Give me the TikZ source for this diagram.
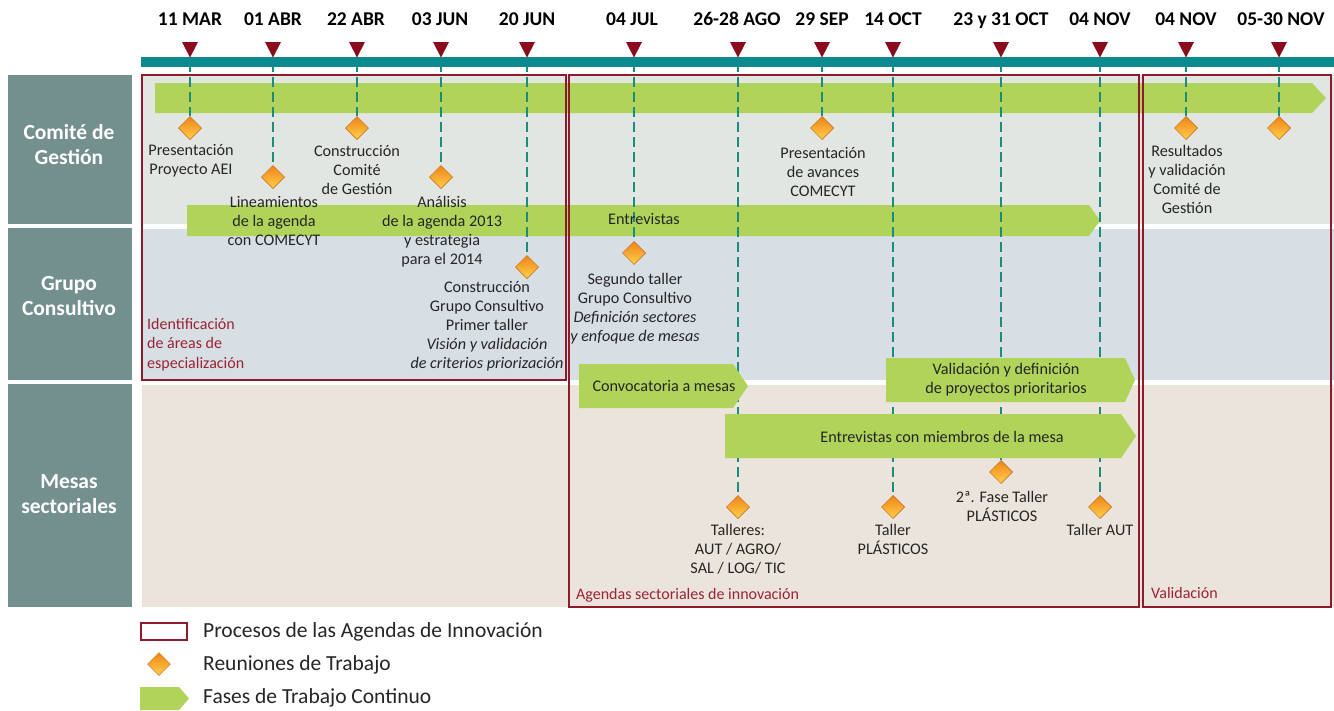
\documentclass[tikz,border=0pt]{standalone}
\usepackage{fontspec}
\setmainfont{Carlito}
\usetikzlibrary{shapes.geometric}
\definecolor{tealbar}{HTML}{0B8A8F}
\definecolor{trired}{HTML}{8B0B1E}
\definecolor{dashc}{HTML}{1E8C7A}
\definecolor{sidebg}{HTML}{73908F}
\definecolor{rowA}{HTML}{E1E6E2}
\definecolor{rowB}{HTML}{D7DEE4}
\definecolor{rowC}{HTML}{EBE4DC}
\definecolor{gbarc}{HTML}{B0D35A}
\definecolor{frame}{HTML}{8E1B2C}
\definecolor{dtop}{HTML}{F0841A}
\definecolor{dbot}{HTML}{FFD04A}
\definecolor{dedge}{HTML}{C97A2A}
\definecolor{txt}{HTML}{262626}
\definecolor{redtxt}{HTML}{9B2335}
\begin{document}
\begin{tikzpicture}[x=1pt,y=-1pt,
  lbl/.style={font=\fontsize{16.2}{19}\selectfont, align=center, text=txt, inner sep=0pt},
  datelbl/.style={font=\bfseries\fontsize{19.5}{22}\selectfont, text=black, inner sep=0pt, anchor=base},
  side/.style={font=\bfseries\fontsize{21.5}{25}\selectfont, align=center, text=white, inner sep=0pt},
  redlbl/.style={font=\fontsize{16}{19.5}\selectfont, align=left, text=redtxt, inner sep=0pt},
  leg/.style={font=\fontsize{21.5}{24}\selectfont, text=txt, inner sep=0pt, anchor=west},
  diam/.style={diamond, minimum size=23pt, inner sep=0pt, top color=dtop, bottom color=dbot, draw=dedge, line width=0.5pt},
  vline/.style={draw=dashc, line width=2.7pt, dash pattern=on 10pt off 5pt},
  frm/.style={draw=frame, line width=1.6pt},
  gbar/.style={fill=gbarc},
  tri/.style={fill=trired},
]
\fill[white] (0,0) rectangle (1334,710);
\useasboundingbox (0,0) rectangle (1334,710);

% side labels
\fill[sidebg] (8,75) rectangle (132,224);
\fill[sidebg] (8,228) rectangle (132,380);
\fill[sidebg] (8,384) rectangle (132,607);
\node[side] (s1) at (69,145) {Comité de\\Gestión};
\node[side] (s2) at (69,296.5) {Grupo\\Consultivo};
\node[side] (s3) at (69,494.5) {Mesas\\sectoriales};

% row backgrounds
\fill[rowA] (142,75) rectangle (1334,224);
\fill[rowB] (142,229) rectangle (1334,380);
\fill[rowC] (142,385) rectangle (1334,607);

% upper green bars
\fill[gbar] (155,83) -- (1312,83) -- (1326,98) -- (1312,113) -- (155,113) -- cycle;
\fill[gbar] (187,205) -- (1089,205) -- (1100,220.5) -- (1089,236) -- (187,236) -- cycle;

% timeline anchors
\foreach \x/\n in {190/1,273/2,357/3,441/4,527/5,634/6,738/7,822/8,893/9,1001/10,1100/11,1186/12,1279/13}{
  \coordinate (t\n) at (\x,62);
}

% diamonds
\node[diam] (d1) at (190,128) {};
\node[diam] (d2) at (273,177) {};
\node[diam] (d3) at (357,128) {};
\node[diam] (d4) at (441,177) {};
\node[diam] (d5) at (527,267) {};
\node[diam] (d6) at (634,253) {};
\node[diam] (d7) at (738,507) {};
\node[diam] (d8) at (822,128) {};
\node[diam] (d9) at (893,507) {};
\node[diam] (d10) at (1001,472) {};
\node[diam] (d11) at (1100,507) {};
\node[diam] (d12) at (1186,128) {};
\node[diam] (d13) at (1279,128) {};

% dashed connectors
\foreach \n in {1,...,13}{
  \draw[vline] (t\n) -- (d\n.north);
}

% lower green bars (cover the dashed lines)
\fill[gbar] (579,364) -- (733,364) -- (748,386) -- (733,408) -- (579,408) -- cycle;
\fill[gbar] (886,358) -- (1125,358) -- (1135,380) -- (1125,402) -- (886,402) -- cycle;
\fill[gbar] (725,414) -- (1121,414) -- (1136,436) -- (1121,458) -- (725,458) -- cycle;

% redraw diamonds on top
\foreach \n in {1,...,13}{
  \path (d\n.center) node[diam] {};
}

% timeline bar and triangles
\fill[tealbar] (141,57) rectangle (1334,67);
\foreach \x in {190,273,357,441,527,634,738,822,893,1001,1100,1186,1279}{
  \fill[tri] (\x-8,42) -- (\x+8,42) -- (\x,57.5) -- cycle;
}

% date labels
\node[datelbl] (L1) at (190,25.5) {11 MAR};
\node[datelbl] (L2) at (273,25.5) {01 ABR};
\node[datelbl] (L3) at (356,25.5) {22 ABR};
\node[datelbl] (L4) at (440,25.5) {03 JUN};
\node[datelbl] (L5) at (527,25.5) {20 JUN};
\node[datelbl] (L6) at (632,25.5) {04 JUL};
\node[datelbl] (L7) at (737,25.5) {26-28 AGO};
\node[datelbl] (L8) at (822,25.5) {29 SEP};
\node[datelbl] (L9) at (893,25.5) {14 OCT};
\node[datelbl] (L10) at (1001,25.5) {23 y 31 OCT};
\node[datelbl] (L11) at (1100,25.5) {04 NOV};
\node[datelbl] (L12) at (1186,25.5) {04 NOV};
\node[datelbl] (L13) at (1281,25.5) {05-30 NOV};

% process frames
\draw[frm] (142,75) rectangle (566,380);
\draw[frm] (569,75) rectangle (1139,607);
\draw[frm] (1143,75) rectangle (1331,607);

% meeting labels
\node[lbl] (m1) at (191,160.5) {Presentación\\Proyecto AEI};
\node[lbl] (m2) at (274,220.5) {Lineamientos\\de la agenda\\con COMECYT};
\node[lbl] (m3) at (357,170) {Construcción\\Comité\\de Gestión};
\node[lbl] (m4) at (442,232) {Análisis\\de la agenda 2013\\y estrategia\\para el 2014};
\node[lbl] (m5) at (487,326) {Construcción\\Grupo Consultivo\\Primer taller\\\textit{Visión y validación}\\\textit{de criterios priorización}};
\node[lbl] (m6) at (635,308.5) {Segundo taller\\Grupo Consultivo\\\textit{Definición sectores}\\\textit{y enfoque de mesas}};
\node[lbl] (m7) at (738,549.5) {Talleres:\\AUT / AGRO/\\SAL / LOG/ TIC};
\node[lbl] (m8) at (823,171.5) {Presentación\\de avances\\COMECYT};
\node[lbl] (m9) at (893,539.5) {Taller\\PLÁSTICOS};
\node[lbl] (m10) at (1002,506.5) {2ª. Fase Taller\\PLÁSTICOS};
\node[lbl] (m11) at (1100,530) {Taller AUT};
\node[lbl] (m12) at (1187,179.5) {Resultados\\y validación\\Comité de\\Gestión};

% bar labels
\node[lbl] (b1) at (644,219) {Entrevistas};
\node[lbl] (b2) at (664,386) {Convocatoria a mesas};
\node[lbl] (b3) at (1006,379.5) {Validación y definición\\de proyectos prioritarios};
\node[lbl] (b4) at (942,437) {Entrevistas con miembros de la mesa};

% frame labels
\node[redlbl, anchor=west] (r1) at (147,344.5) {Identificación\\de áreas de\\especialización};
\node[redlbl, anchor=west] (r2) at (576,595) {Agendas sectoriales de innovación};
\node[redlbl, anchor=west] (r3) at (1151,593) {Validación};

% legend
\draw[frm, line width=2pt] (141,623) rectangle (187,640);
\node[diam] (lgd) at (159,664) {};
\fill[gbar] (140,687) -- (179,687) -- (189,698.5) -- (179,710) -- (140,710) -- cycle;
\node[leg] (lg1) at (203,632) {Procesos de las Agendas de Innovación};
\node[leg] (lg2) at (203,665) {Reuniones de Trabajo};
\node[leg] (lg3) at (203,698) {Fases de Trabajo Continuo};
\end{tikzpicture}
\end{document}
